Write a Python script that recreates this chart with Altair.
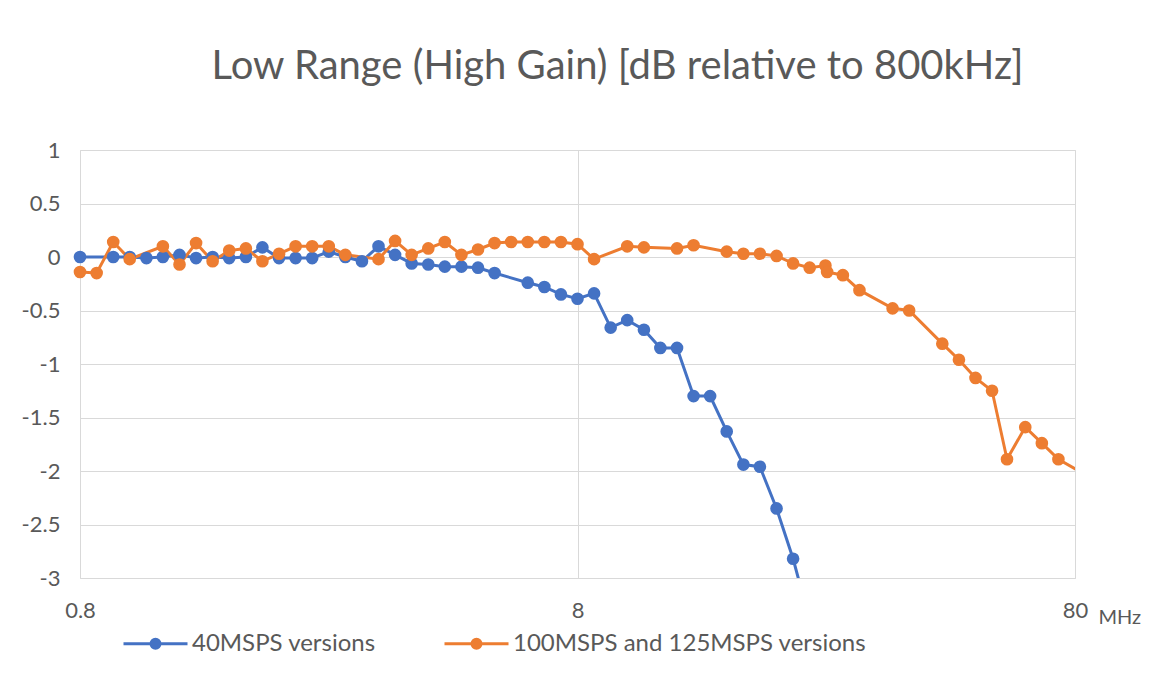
import altair as alt
import pandas as pd

# ---- data ----
series_names = ["40MSPS versions", "100MSPS and 125MSPS versions"]

blue_mhz = [0.8, 0.933, 1.007, 1.088, 1.174, 1.268, 1.369, 1.478, 1.596, 1.724,
            1.861, 2.010, 2.170, 2.343, 2.530, 2.732, 2.950, 3.185, 3.439, 3.713,
            4.010, 4.329, 4.675, 5.048, 5.450, 6.355, 6.862, 7.409, 8.0, 8.638,
            9.327, 10.07, 10.88, 11.74, 12.68, 13.69, 14.78, 15.96, 17.24, 18.61,
            20.10, 21.70, 23.43]
blue_db = [0, 0, 0, -0.01, 0, 0.02, -0.01, 0, -0.01, 0,
           0.09, -0.01, -0.01, -0.01, 0.05, 0, -0.04, 0.1, 0.02, -0.06,
           -0.07, -0.09, -0.09, -0.1, -0.15, -0.24, -0.28, -0.35, -0.39, -0.34,
           -0.66, -0.59, -0.68, -0.85, -0.85, -1.30, -1.30, -1.63, -1.94, -1.96,
           -2.35, -2.82, -3.4]

orange_mhz = [0.8, 0.864, 0.933, 1.007, 1.174, 1.268, 1.369, 1.478, 1.596, 1.724,
              1.861, 2.010, 2.170, 2.343, 2.530, 2.732, 3.185, 3.439, 3.713, 4.010,
              4.329, 4.675, 5.048, 5.450, 5.885, 6.355, 6.862, 7.409, 8.0, 8.638,
              10.07, 10.88, 12.68, 13.69, 15.96, 17.24, 18.61, 20.10, 21.70, 23.43,
              25.2, 25.4, 27.32, 29.50, 34.39, 37.13, 43.29, 46.75, 50.48, 54.50,
              58.4, 63.55, 68.62, 74.09, 81.5]
orange_db = [-0.14, -0.15, 0.14, -0.02, 0.1, -0.07, 0.13, -0.04, 0.06, 0.08,
             -0.04, 0.03, 0.1, 0.1, 0.1, 0.02, -0.02, 0.15, 0.02, 0.08,
             0.14, 0.02, 0.07, 0.13, 0.14, 0.14, 0.14, 0.14, 0.12, -0.02,
             0.1, 0.09, 0.08, 0.11, 0.05, 0.03, 0.03, 0.01, -0.06, -0.1,
             -0.08, -0.14, -0.17, -0.31, -0.48, -0.5, -0.81, -0.96, -1.13, -1.25,
             -1.89, -1.59, -1.74, -1.89, -2.0]

x_ticks = [0.8, 8, 80]
y_ticks = [-3, -2.5, -2, -1.5, -1, -0.5, 0, 0.5, 1]
colors = ["#4472C4", "#ED7D31"]

df = pd.concat([
    pd.DataFrame({"mhz": blue_mhz, "db": blue_db, "series": series_names[0], "order": range(len(blue_mhz))}),
    pd.DataFrame({"mhz": orange_mhz, "db": orange_db, "series": series_names[1], "order": range(len(orange_mhz))}),
])

FONT = "Lato"
GREY = "#595959"

legend_path = ("M-1,0L1,0"
               "M-0.14,0A0.14,0.14 0 1,1 0.14,0A0.14,0.14 0 1,1 -0.14,0"
               "M-0.08,0A0.08,0.08 0 1,1 0.08,0A0.08,0.08 0 1,1 -0.08,0"
               "M-0.03,0A0.03,0.03 0 1,1 0.03,0A0.03,0.03 0 1,1 -0.03,0")

x_enc = alt.X("mhz:Q",
              scale=alt.Scale(type="log", domain=[0.8, 80], nice=False),
              axis=alt.Axis(values=x_ticks, format="~g", grid=True, gridColor="#D9D9D9",
                            domain=False, ticks=False, labelFlush=False, labelOverlap=False,
                            labelPadding=22, labelFontSize=22, labelColor=GREY, labelFont=FONT,
                            title="MHz", titleX=1018, titleY=39, titleAlign="left",
                            titleBaseline="middle", titleAnchor="start", titleFontSize=20,
                            titleFontWeight="normal", titleColor=GREY, titleFont=FONT))
y_enc = alt.Y("db:Q",
              scale=alt.Scale(domain=[-3, 1], nice=False, zero=False),
              axis=alt.Axis(values=y_ticks, labelExpr="toString(datum.value)", grid=True,
                            gridColor="#D9D9D9", domain=False, ticks=False, labelPadding=20,
                            labelFontSize=22, labelColor=GREY, labelFont=FONT, title=None))
color_enc = alt.Color("series:N",
                      scale=alt.Scale(domain=series_names, range=colors),
                      sort=series_names,
                      legend=alt.Legend(title=None, orient="none", legendX=42, legendY=460,
                                        direction="horizontal", columns=2,
                                        symbolType=legend_path, symbolSize=4096,
                                        symbolStrokeWidth=3, labelFontSize=24, labelLimit=0,
                                        labelColor=GREY, labelFont=FONT, labelOffset=3,
                                        columnPadding=62))

base = alt.Chart(df)
lines = base.mark_line(strokeWidth=3, clip=True).encode(
    x=x_enc, y=y_enc, color=color_enc, order="order:Q", detail="series:N")
points = base.transform_filter(
    "datum.db >= -3 && datum.mhz <= 80"
).mark_point(filled=True, size=160, opacity=1, shape="circle").encode(
    x=x_enc, y=y_enc, color=color_enc)

chart = alt.layer(lines, points).properties(
    width=995, height=428,
    title=alt.Title("Low Range (High Gain) [dB relative to 800kHz]", fontSize=40,
                    font=FONT, color=GREY, fontWeight="normal", anchor="middle",
                    dx=40, offset=52),
    autosize=alt.AutoSizeParams(type="none"),
    padding={"left": 72, "top": 142, "right": 71, "bottom": 100},
).configure_view(stroke=None).configure(background="white")

chart.save("out.html", embed_options={"renderer": "svg", "actions": False})
